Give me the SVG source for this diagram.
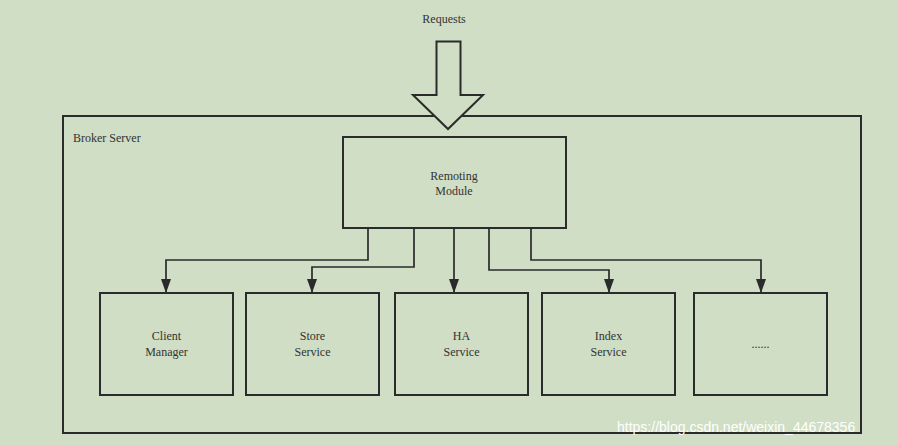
<svg xmlns="http://www.w3.org/2000/svg" width="898" height="445" viewBox="0 0 898 445">
<defs>
<style>
.b{fill:none;stroke:#2b2b2b;stroke-width:2}
.t{font-family:"Liberation Serif",serif;font-size:12px;fill:#333;text-anchor:middle}
.c{fill:none;stroke:#2b2b2b;stroke-width:1.7}
</style>
<marker id="ah" viewBox="0 0 10 10" refX="10" refY="5" markerWidth="14" markerHeight="10" markerUnits="userSpaceOnUse" orient="auto" preserveAspectRatio="none"><path d="M0,0L10,5L0,10Z" fill="#2b2b2b"/></marker>
</defs>
<rect width="898" height="445" fill="#cfdec4"/>
<text x="444" y="23" class="t">Requests</text>
<g id="broker"><rect x="63" y="116" width="798" height="317" class="b"/>
<text x="73" y="142" class="t" style="text-anchor:start">Broker Server</text></g>
<g id="requests"><path d="M436.5,41.5H460.5V95H483L448,129L413,95H436.5Z" fill="#cfdec4" stroke="#2b2b2b" stroke-width="2"/></g>
<g id="remoting"><rect x="343" y="137" width="223" height="91" class="b"/><text x="454" y="180" class="t">Remoting</text><text x="454" y="195" class="t">Module</text></g>
<g id="connectors">
<path d="M368,228V260H166V293" class="c" marker-end="url(#ah)"/>
<path d="M414,228V267H312V293" class="c" marker-end="url(#ah)"/>
<path d="M454,228V293" class="c" marker-end="url(#ah)"/>
<path d="M489,228V270H609V293" class="c" marker-end="url(#ah)"/>
<path d="M531,228V260H761V293" class="c" marker-end="url(#ah)"/>
</g>
<g id="client"><rect x="100" y="293" width="133" height="102" class="b"/><text x="166.5" y="340" class="t">Client</text><text x="166.5" y="356" class="t">Manager</text></g>
<g id="store"><rect x="246" y="293" width="133" height="102" class="b"/><text x="312.5" y="340" class="t">Store</text><text x="312.5" y="356" class="t">Service</text></g>
<g id="ha"><rect x="395" y="293" width="133" height="102" class="b"/><text x="461.5" y="340" class="t">HA</text><text x="461.5" y="356" class="t">Service</text></g>
<g id="index"><rect x="542" y="293" width="133" height="102" class="b"/><text x="608.5" y="340" class="t">Index</text><text x="608.5" y="356" class="t">Service</text></g>
<g id="more"><rect x="694" y="293" width="133" height="102" class="b"/><text x="760.5" y="348" class="t">......</text></g>
<text x="617" y="432" font-family="Liberation Sans,sans-serif" font-size="14" fill="#ffffff">https://blog.csdn.net/weixin_44678356</text>
</svg>
